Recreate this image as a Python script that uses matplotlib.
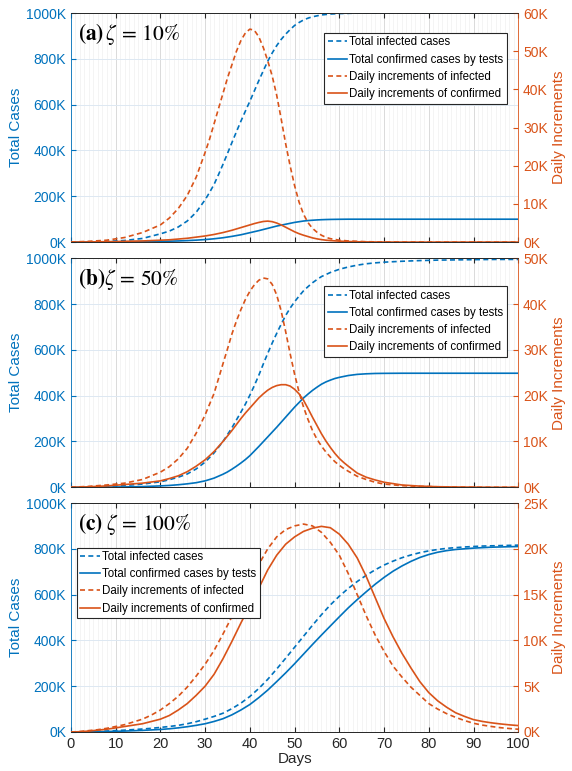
import matplotlib
matplotlib.use('Agg')
import matplotlib.pyplot as plt
from matplotlib.ticker import MultipleLocator, FuncFormatter

plt.rcParams['font.family'] = ['Liberation Sans', 'DejaVu Sans']
plt.rcParams['mathtext.fontset'] = 'stix'

# values, in thousands

# (a) zeta = 10%
a_days = [0, 4, 8, 12, 16, 20, 22, 24, 26, 28,
          30, 31, 32, 33, 34, 35, 36, 37, 38, 39, 40, 41, 42, 43, 44, 45, 46, 47, 48, 49,
          50, 51, 52, 53, 54, 55, 56, 57, 58,
          60, 62, 64, 66, 70, 80, 90, 100]
a_inf_total = [0, 1, 3, 7, 16, 36, 48, 66, 92, 130,
               185, 217, 252, 295, 340, 387, 435, 482, 528, 572, 615, 660, 705, 748, 790, 826, 858, 885, 908, 928,
               946, 959, 970, 978, 984, 988, 992, 994, 996,
               998, 999, 1000, 1000, 1000, 1000, 1000, 1000]
a_conf_total = [0, 0.2, 0.5, 1, 2, 3, 4, 5, 6.5, 8.5,
                11, 12.7, 14.5, 16.7, 19, 22, 25, 28.5, 32, 36.5, 41, 45.5, 50, 55, 60, 65, 70, 74, 78, 82,
                86, 89, 92, 94, 95.5, 96.8, 97.8, 98.5, 99,
                99.6, 100, 100, 100, 100, 100, 100, 100]
a_inf_daily = [0, 0.2, 0.5, 1.2, 2.5, 4.5, 6.3, 8.8, 12.2, 17,
               23.5, 27, 31, 35, 39, 43, 46.5, 50, 52.8, 54.8, 55.8, 55.5, 53.8, 51, 47.5, 43.5, 38.5, 32.3, 25.8, 20,
               14.8, 10.5, 7.3, 5.1, 3.6, 2.6, 1.8, 1.25, 0.9,
               0.5, 0.3, 0.2, 0.1, 0.03, 0, 0, 0]
a_conf_daily = [0, 0.05, 0.1, 0.2, 0.3, 0.5, 0.6, 0.8, 1.0, 1.3,
                1.6, 1.8, 2.0, 2.25, 2.5, 2.8, 3.1, 3.45, 3.8, 4.15, 4.5, 4.85, 5.15, 5.4, 5.5, 5.35, 5.0, 4.5, 3.9, 3.3,
                2.7, 2.2, 1.8, 1.45, 1.1, 0.85, 0.65, 0.5, 0.4,
                0.25, 0.15, 0.08, 0.05, 0.01, 0, 0, 0]

# (b) zeta = 50%
b_days = [0, 4, 8, 12, 16, 20, 22, 24, 26, 28, 30, 32, 34,
          35, 36, 37, 38, 39, 40, 41, 42, 43, 44, 45, 46, 47, 48, 49,
          50, 51, 52, 53, 54, 55, 56, 57, 58, 59, 60, 61, 62,
          64, 66, 68, 70, 74, 78, 82, 86, 90, 95, 100]
b_inf_total = [0, 1, 3, 8, 14, 24, 33, 44, 58, 80, 110, 150, 200,
               230, 260, 294, 328, 363, 402, 444, 489, 538, 585, 630, 672, 712, 750, 782,
               810, 835, 858, 876, 893, 907, 920, 929, 938, 945, 952, 957, 962,
               970, 976, 980, 983, 987, 990, 992, 993, 994, 995, 995]
b_conf_total = [0, 0.3, 0.8, 1.5, 3, 6, 8, 11, 15, 20, 28, 40, 57,
                67, 79, 92, 106, 121, 138, 158, 178, 199, 220, 241, 262, 284, 306, 328,
                350, 370, 390, 407, 423, 437, 450, 460, 468, 475, 480, 484, 488,
                493, 495.5, 497, 497.5, 498, 498, 498, 498, 498, 498, 498]
b_inf_daily = [0, 0.2, 0.5, 0.9, 1.7, 3.3, 4.5, 6.2, 8.5, 11.8, 15.8, 20.5, 27,
               30.2, 33.5, 36.3, 38.8, 41.0, 42.8, 44.2, 45.2, 45.7, 45.5, 44.3, 42, 38.5, 34, 29.2,
               24.7, 20.8, 17.5, 14.8, 12.4, 10.5, 9, 7.7, 6.6, 5.6, 4.8, 4.1, 3.5,
               2.4, 1.7, 1.1, 0.7, 0.35, 0.2, 0.1, 0.05, 0, 0, 0]
b_conf_daily = [0, 0.1, 0.3, 0.6, 0.9, 1.4, 1.9, 2.5, 3.4, 4.6, 6, 7.8, 10,
                11.2, 12.4, 13.7, 15, 16.2, 17.3, 18.4, 19.5, 20.4, 21.2, 21.8, 22.2, 22.4, 22.4, 22.1,
                21.4, 20.4, 19, 17.2, 15.3, 13.5, 11.7, 10.1, 8.7, 7.4, 6.3, 5.4, 4.6,
                3.1, 2.2, 1.6, 1.1, 0.5, 0.25, 0.12, 0.06, 0.03, 0, 0]

# (c) zeta = 100%
c_days = [0, 2, 4, 6, 8, 10, 12, 14, 16, 18, 20, 22, 24, 26, 28, 30, 32, 34, 36, 38,
          40, 42, 44, 46, 48, 50, 52, 54, 56, 58, 60, 62, 64, 66, 68, 70, 72, 74, 76, 78,
          80, 82, 84, 86, 88, 90, 92, 94, 96, 98, 100]
c_inf_total = [0, 0.5, 1.5, 2.5, 4, 6, 8, 10.5, 13, 16, 20, 24, 29, 36, 45, 56, 68, 82, 102, 126,
               155, 190, 230, 275, 322, 370, 418, 466, 512, 555, 593, 627, 657, 684, 708, 729, 746, 761, 773, 783,
               791, 797, 802, 805, 808, 810, 812, 813, 814, 815, 816]
c_conf_total = [0, 0.2, 0.5, 1, 2, 3, 4, 5.5, 7, 9, 11, 14, 18, 23, 29, 36, 46, 58, 75, 96,
                120, 150, 183, 220, 258, 298, 340, 382, 423, 463, 503, 542, 578, 612, 645, 675, 702, 725, 745, 762,
                775, 785, 792, 797, 800, 803, 805, 807, 808, 809, 810]
c_inf_daily = [0, 0.05, 0.15, 0.25, 0.4, 0.6, 0.8, 1.1, 1.4, 1.85, 2.4, 3.1, 3.9, 4.9, 6.1, 7.4, 8.9, 10.7, 12.6, 14.4,
               16.3, 18.3, 20.0, 21.3, 22.1, 22.5, 22.7, 22.5, 21.8, 20.7, 19.3, 17.3, 15.0, 12.7, 10.6, 8.8, 7.2, 6.0, 4.9, 4.0,
               3.1, 2.5, 2.0, 1.6, 1.25, 0.95, 0.75, 0.6, 0.47, 0.38, 0.3]
c_conf_daily = [0, 0.03, 0.1, 0.2, 0.3, 0.45, 0.6, 0.75, 0.9, 1.15, 1.4, 1.8, 2.4, 3.1, 4.0, 5.0, 6.3, 8, 9.9, 11.9,
                13.8, 15.7, 17.7, 19.3, 20.5, 21.3, 21.9, 22.25, 22.45, 22.3, 21.6, 20.5, 19.0, 17.0, 14.7, 12.4, 10.4, 8.6, 7.0, 5.5,
                4.3, 3.4, 2.7, 2.1, 1.7, 1.35, 1.15, 1.0, 0.88, 0.78, 0.7]

panel_labels = [r'$\mathbf{(a)}\,\zeta\,=\,10\%$', r'$\mathbf{(b)}\zeta\,=\,50\%$', r'$\mathbf{(c)}\;\zeta\,=\,100\%$']
right_max = [60, 50, 25]
right_step = [10, 10, 5]
legend_names = ['Total infected cases', 'Total confirmed cases by tests',
                'Daily increments of infected', 'Daily increments of confirmed']

blue = '#0072BD'
orange = '#D95319'
dark = '#262626'

fig = plt.figure(figsize=(5.72, 7.71), dpi=100)
bottoms = [0.686, 0.368, 0.0506]
all_days = [a_days, b_days, c_days]
totals = [(a_inf_total, a_conf_total), (b_inf_total, b_conf_total), (c_inf_total, c_conf_total)]
dailies = [(a_inf_daily, a_conf_daily), (b_inf_daily, b_conf_daily), (c_inf_daily, c_conf_daily)]
leg_loc = [(0.975, 0.913, 'upper right'), (0.975, 0.878, 'upper right'), (0.013, 0.805, 'upper left')]

kfmt = FuncFormatter(lambda v, p: '%dK' % round(v))

for i in range(3):
    ax = fig.add_axes([0.124, bottoms[i], 0.782, 0.297])
    ax2 = ax.twinx()
    d = all_days[i]

    l1, = ax.plot(d, totals[i][0], color=blue, lw=1.2, ls=(0, (3, 2)))
    l2, = ax.plot(d, totals[i][1], color=blue, lw=1.2)
    l3, = ax2.plot(d, dailies[i][0], color=orange, lw=1.2, ls=(0, (3, 2)))
    l4, = ax2.plot(d, dailies[i][1], color=orange, lw=1.2)

    ax.set_xlim(0, 100)
    ax.set_ylim(0, 1000)
    ax2.set_ylim(0, right_max[i])
    ax.xaxis.set_major_locator(MultipleLocator(10))
    ax.xaxis.set_minor_locator(MultipleLocator(1))
    ax.yaxis.set_major_locator(MultipleLocator(200))
    ax2.yaxis.set_major_locator(MultipleLocator(right_step[i]))
    ax.yaxis.set_major_formatter(kfmt)
    ax2.yaxis.set_major_formatter(kfmt)

    # grid like matlab
    ax.grid(which='major', axis='x', color='#dadada', lw=0.7)
    ax.grid(which='minor', axis='x', color='#f0f0f0', lw=0.5)
    ax.grid(which='major', axis='y', color='#dde8f2', lw=0.7)
    ax.set_axisbelow(True)

    ax.tick_params(axis='x', which='major', direction='in', length=3.5, top=True, colors=dark, labelsize=10.5)
    ax.tick_params(axis='x', which='minor', length=0)
    ax.tick_params(axis='y', direction='in', length=3.5, colors=blue, labelsize=10)
    ax2.tick_params(axis='y', direction='in', length=3.5, colors=orange, labelsize=10)

    ax.spines['left'].set_color(blue)
    ax.spines['right'].set_visible(False)
    ax2.spines['left'].set_visible(False)
    ax2.spines['right'].set_color(orange)
    for a in (ax, ax2):
        a.spines['top'].set_color(dark)
        a.spines['bottom'].set_color(dark)
        for s in a.spines.values():
            s.set_linewidth(0.6)

    ax.set_ylabel('Total Cases', color=blue, fontsize=11, labelpad=2)
    ax2.set_ylabel('Daily Increments', color=orange, fontsize=11, labelpad=3)

    if i < 2:
        ax.tick_params(axis='x', labelbottom=False)
    else:
        ax.set_xlabel('Days', fontsize=11, color=dark, labelpad=1)

    ax2.text(0.015, 0.965, panel_labels[i], transform=ax2.transAxes, fontsize=15.5,
             va='top', ha='left', color='black')

    lx, ly, loc = leg_loc[i]
    leg = ax2.legend([l1, l2, l3, l4], legend_names, loc=loc, bbox_to_anchor=(lx, ly),
                     fontsize=8.3, fancybox=False, framealpha=1, edgecolor=dark,
                     borderpad=0.3, labelspacing=0.45, handlelength=1.7, handletextpad=0.2,
                     borderaxespad=0)
    leg.get_frame().set_linewidth(0.8)

fig.savefig('out.png', dpi=100)
